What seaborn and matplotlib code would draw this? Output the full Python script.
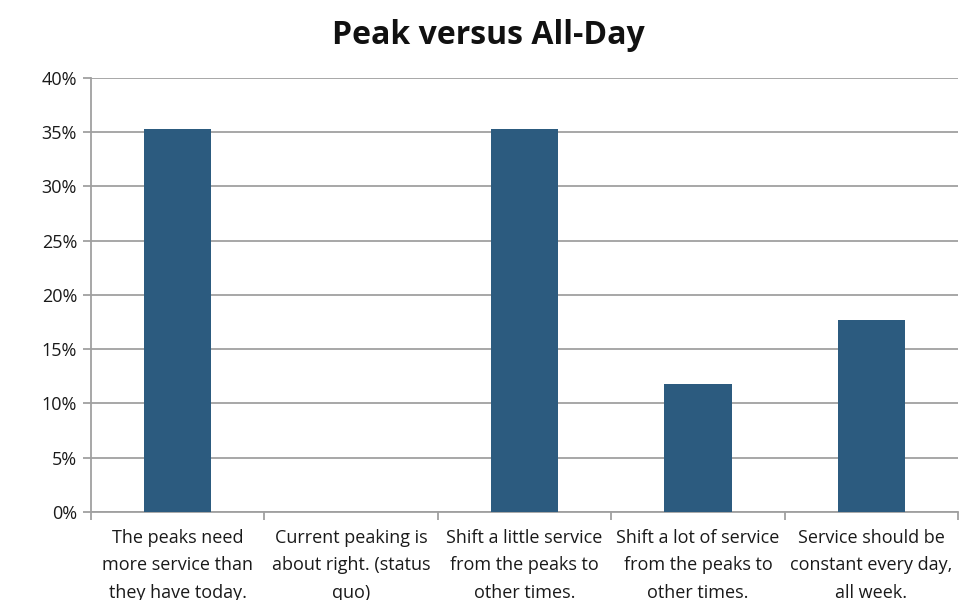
import matplotlib
matplotlib.use("Agg")
import matplotlib.pyplot as plt
import seaborn as sns
import pandas as pd
from matplotlib.ticker import PercentFormatter, FixedLocator

categories = [
    "The peaks need\nmore service than\nthey have today.",
    "Current peaking is\nabout right. (status\nquo)",
    "Shift a little service\nfrom the peaks to\nother times.",
    "Shift a lot of service\nfrom the peaks to\nother times.",
    "Service should be\nconstant every day,\nall week.",
]
values = [0.353, 0.0, 0.353, 0.1176, 0.1765]
title = "Peak versus All-Day"

sns.set_theme(style="white")
plt.rcParams['font.family'] = ['Open Sans', 'DejaVu Sans']

df = pd.DataFrame({"cat": categories, "val": values})
fig = plt.figure(figsize=(9.77, 6), dpi=100)
ax = fig.add_axes([0.0931, 0.1467, 0.8875, 0.7233])
sns.barplot(data=df, x="cat", y="val", color="#2C5B7F", width=0.39,
            saturation=1, ax=ax, zorder=3, edgecolor="#2C5B7F", linewidth=0)

ax.set_ylim(0, 0.40)
ax.set_xlim(-0.5, 4.5)
ax.yaxis.set_major_locator(FixedLocator([i * 0.05 for i in range(9)]))
ax.yaxis.set_major_formatter(PercentFormatter(1.0, decimals=0))
ax.grid(axis="y", color="#A0A0A0", linewidth=1.3, zorder=0)
ax.set_axisbelow(True)
for s in ["top", "right"]:
    ax.spines[s].set_visible(False)
for s in ["left", "bottom"]:
    ax.spines[s].set_color("#A0A0A0")
    ax.spines[s].set_linewidth(1.3)
ax.tick_params(axis="y", which="major", length=6, width=1.3, color="#A0A0A0",
               labelsize=13, labelcolor="#1a1a1a", pad=4, left=True)
ax.tick_params(axis="x", which="major", length=0, labelsize=13,
               labelcolor="#1a1a1a", pad=12)
ax.set_xticks([i - 0.5 for i in range(6)], minor=True)
ax.tick_params(axis="x", which="minor", length=6, width=1.3, color="#A0A0A0",
               bottom=True)
for lbl in ax.get_xticklabels():
    lbl.set_linespacing(1.68)
ax.set_xlabel("")
ax.set_ylabel("")
fig.suptitle(title, fontsize=23, fontweight="bold", y=0.968, color="#111111")
fig.savefig("out.png", dpi=100)
